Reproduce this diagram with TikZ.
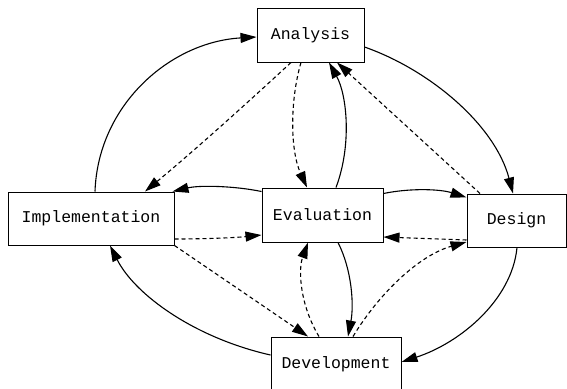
\documentclass[tikz,border=0pt]{standalone}
\usepackage{fontspec}
\setmonofont{Liberation Mono}
\usetikzlibrary{arrows.meta}
\begin{document}
\begin{tikzpicture}[x=1pt,y=-1pt,
  box/.style={draw,line width=1pt,inner sep=0pt,font=\ttfamily\fontsize{16.5}{20}\selectfont},
  conn/.style={line width=1.1pt,-{Triangle[length=16pt,width=10pt]}},
  dconn/.style={conn,dash pattern=on 4pt off 3pt}]
\clip (0,0) rectangle (567,388);
\node[box,minimum width=107pt,minimum height=54pt] (ana) at (310.5,35) {Analysis};
\node[box,minimum width=166pt,minimum height=53pt] (imp) at (91,218.5) {Implementation};
\node[box,minimum width=121pt,minimum height=54pt] (eva) at (322.5,215) {Evaluation};
\node[box,minimum width=99pt,minimum height=53pt] (des) at (516.5,220.5) {Design};
\node[box,minimum width=130pt,minimum height=54pt] (dev) at (336,364) {Development};
% outer solid cycle
\draw[conn] ([xshift=4pt]imp.north) .. controls (98,105) and (170,42) .. ([yshift=-2pt]ana.west);
\draw[conn] ([yshift=-12pt]ana.east) .. controls (430,70) and (495,125) .. ([xshift=-3.5pt]des.north);
\draw[conn] ([xshift=0.5pt]des.south) .. controls (512,300) and (460,343) .. ([yshift=2pt]dev.east);
\draw[conn] ([yshift=9pt]dev.west) .. controls (195,338) and (135,295) .. ([xshift=19pt]imp.south);
% solid from evaluation
\draw[conn] ([xshift=13.5pt]eva.north) .. controls (352,145) and (347,95) .. ([xshift=18.5pt]ana.south);
\draw[conn] ([yshift=-4pt]eva.north west) .. controls (235,186) and (200,185) .. ([xshift=-2pt]imp.north east);
\draw[conn] ([yshift=-6pt]eva.north east) .. controls (410,188) and (440,189) .. ([yshift=-4pt]des.north west);
\draw[conn] ([xshift=15.5pt]eva.south) .. controls (352,270) and (354,305) .. ([xshift=12pt]dev.north);
% dashed
\draw[dconn] ([xshift=-19.5pt]ana.south) .. controls (245,105) and (195,150) .. ([xshift=54pt]imp.north);
\draw[dconn] ([xshift=-9.5pt]ana.south) .. controls (290,100) and (290,150) .. ([xshift=-15.5pt]eva.north);
\draw[dconn] ([xshift=-36.5pt]des.north) -- ([xshift=26.5pt]ana.south);
\draw[dconn] ([yshift=-20.5pt]imp.east) .. controls (200,239) and (232,238) .. ([yshift=-20pt]eva.west);
\draw[dconn] (imp.south east) -- ([xshift=-28pt]dev.north);
\draw[dconn] ([yshift=-19.5pt]des.west) .. controls (440,239) and (410,238) .. ([yshift=-22pt]eva.east);
\draw[dconn] ([xshift=-17pt]dev.north) .. controls (300,305) and (298,270) .. ([xshift=-14.5pt]eva.south);
\draw[dconn] ([xshift=17pt]dev.north) .. controls (380,292) and (420,255) .. ([yshift=-21.5pt]des.west);
\end{tikzpicture}
\end{document}
